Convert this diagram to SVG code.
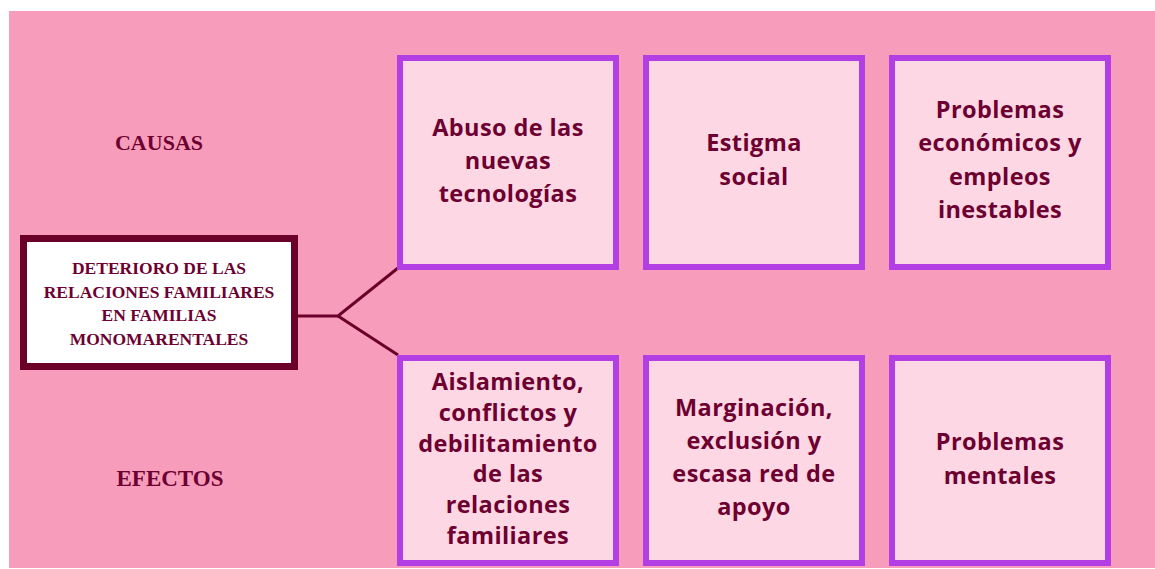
<svg xmlns="http://www.w3.org/2000/svg" width="1155" height="569" viewBox="0 0 1155 569">
<style>
.card{fill:#fdd7e3;stroke:#b33ee3;stroke-width:6}
.ct{font-family:"Open Sans","DejaVu Sans",sans-serif;font-weight:700;font-size:23.5px;letter-spacing:0.4px;fill:#6d0030;text-anchor:middle}
.lbl{font-family:"Liberation Serif","DejaVu Serif",serif;font-weight:700;fill:#6d0030;text-anchor:middle}
.conn{fill:none;stroke:#6b0028;stroke-width:3}
</style>
<rect x="0" y="0" width="1155" height="569" fill="#ffffff"/>
<rect x="9" y="11" width="1146" height="557" fill="#f79dbb"/>
<text class="lbl" x="159" y="150" font-size="22">CAUSAS</text>
<text class="lbl" x="170" y="486" font-size="23">EFECTOS</text>
<g id="connectors">
<polyline class="conn" points="298,316 338,316 398,268"/>
<polyline class="conn" points="338,316 398,355"/>
</g>
<g id="main">
<rect x="23.5" y="238.5" width="271" height="128" fill="#ffffff" stroke="#6b0028" stroke-width="7"/>
<text class="lbl" font-size="17.5" x="159"><tspan x="159" y="274">DETERIORO DE LAS</tspan><tspan x="159" y="297.5">RELACIONES FAMILIARES</tspan><tspan x="159" y="321">EN FAMILIAS</tspan><tspan x="159" y="344.5">MONOMARENTALES</tspan></text>
</g>
<g id="c1">
<rect class="card" x="400" y="58" width="216" height="209"/>
<text class="ct"><tspan x="508" y="136">Abuso de las</tspan><tspan x="508" y="169">nuevas</tspan><tspan x="508" y="202">tecnologías</tspan></text>
</g>
<g id="c2">
<rect class="card" x="646" y="58" width="216" height="209"/>
<text class="ct"><tspan x="754" y="151">Estigma</tspan><tspan x="754" y="185">social</tspan></text>
</g>
<g id="c3">
<rect class="card" x="892" y="58" width="216" height="209"/>
<text class="ct"><tspan x="1000" y="118">Problemas</tspan><tspan x="1000" y="151">económicos y</tspan><tspan x="1000" y="185">empleos</tspan><tspan x="1000" y="218">inestables</tspan></text>
</g>
<g id="e1">
<rect class="card" x="400" y="358" width="216" height="205"/>
<text class="ct"><tspan x="508" y="390">Aislamiento,</tspan><tspan x="508" y="421">conflictos y</tspan><tspan x="508" y="452">debilitamiento</tspan><tspan x="508" y="482">de las</tspan><tspan x="508" y="513">relaciones</tspan><tspan x="508" y="544">familiares</tspan></text>
</g>
<g id="e2">
<rect class="card" x="646" y="358" width="216" height="205"/>
<text class="ct"><tspan x="754" y="416">Marginación,</tspan><tspan x="754" y="449">exclusión y</tspan><tspan x="754" y="482">escasa red de</tspan><tspan x="754" y="515">apoyo</tspan></text>
</g>
<g id="e3">
<rect class="card" x="892" y="358" width="216" height="205"/>
<text class="ct"><tspan x="1000" y="450">Problemas</tspan><tspan x="1000" y="484">mentales</tspan></text>
</g>
</svg>
